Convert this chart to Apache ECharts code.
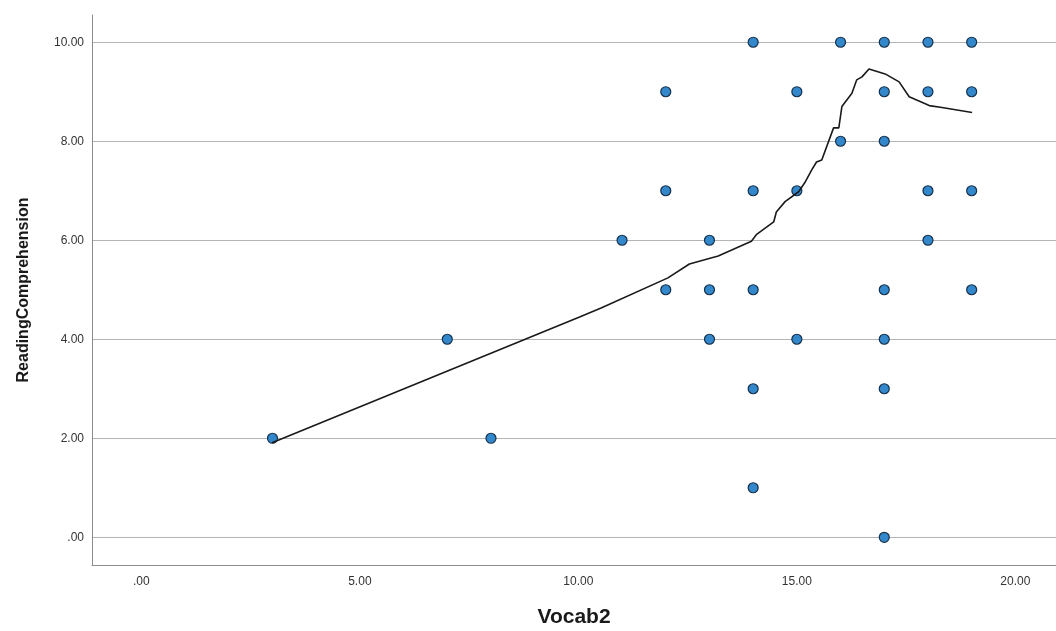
<!DOCTYPE html>
<html>
<head>
<meta charset="utf-8">
<script src="https://cdn.jsdelivr.net/npm/echarts@6/dist/echarts.min.js"></script>
<style>
  html, body { margin: 0; padding: 0; background: #ffffff; }
  #chart { width: 1056px; height: 631px; }
</style>
</head>
<body>
<div id="chart"></div>
<script>
// Scatter points (Vocab2, ReadingComprehension)
const vocab2  = [14, 16, 17, 18, 19,  12, 15, 17, 18, 19,  16, 17,  12, 14, 15, 18, 19,  11, 13, 18,  12, 13, 14, 17, 19,  7, 13, 15, 17,  14, 17,  3, 8,  14,  17];
const reading = [10, 10, 10, 10, 10,   9,  9,  9,  9,  9,   8,  8,   7,  7,  7,  7,  7,   6,  6,  6,   5,  5,  5,  5,  5,  4,  4,  4,  4,   3,  3,  2, 2,   1,   0];

// Loess fit line
const fitX = [2.99, 10.0, 10.52, 12.05, 12.54, 13.2, 13.96, 14.08, 14.47, 14.53, 14.73, 15.04, 15.18, 15.34, 15.45, 15.57, 15.84, 15.96, 16.03, 16.26, 16.37, 16.49, 16.65, 17.02, 17.34, 17.57, 18.03, 18.32, 19.01];
const fitY = [1.91, 4.44, 4.63, 5.24, 5.52, 5.68, 5.98, 6.12, 6.37, 6.57, 6.78, 6.98, 7.16, 7.42, 7.58, 7.62, 8.27, 8.27, 8.70, 8.97, 9.24, 9.30, 9.46, 9.36, 9.20, 8.90, 8.72, 8.68, 8.58];

// Tick values
const xTicks = [0, 5, 10, 15, 20];
const yTicks = [0, 2, 4, 6, 8, 10];

const fmt = v => (v === 0 ? '.00' : v.toFixed(2));
const FONT = 'Liberation Sans, Arial, sans-serif';

const chart = echarts.init(document.getElementById('chart'), null, { renderer: 'canvas' });
chart.setOption({
  animation: false,
  backgroundColor: '#ffffff',
  grid: { left: 92, right: 0, top: 15, bottom: 66, containLabel: false, outerBoundsMode: 'none' },
  xAxis: {
    type: 'value',
    min: -1.13,
    max: 20.93,
    name: 'Vocab2',
    nameLocation: 'middle',
    nameGap: 42,
    nameTextStyle: { fontFamily: FONT, fontWeight: 'bold', fontSize: 21, color: '#1a1a1a' },
    axisLine: { show: true, onZero: false, lineStyle: { color: '#8c8c8c', width: 1 } },
    axisTick: { show: false, customValues: xTicks },
    axisLabel: { customValues: xTicks, formatter: fmt, margin: 11, fontFamily: FONT, fontSize: 12, color: '#333333' },
    splitLine: { show: false }
  },
  yAxis: {
    type: 'value',
    min: -0.56,
    max: 10.55,
    name: 'ReadingComprehension',
    nameLocation: 'middle',
    nameGap: 60,
    nameRotate: 90,
    nameTextStyle: { fontFamily: FONT, fontWeight: 'bold', fontSize: 16, color: '#1a1a1a' },
    axisLine: { show: true, onZero: false, lineStyle: { color: '#8c8c8c', width: 1 } },
    axisTick: { show: false, customValues: yTicks },
    axisLabel: { customValues: yTicks, formatter: fmt, margin: 8, fontFamily: FONT, fontSize: 12, color: '#333333' },
    splitLine: { show: true, lineStyle: { color: '#b4b4b4', width: 1 } }
  },
  series: [
    {
      type: 'scatter',
      data: vocab2.map((x, i) => [x, reading[i]]),
      symbol: 'circle',
      symbolSize: 10,
      itemStyle: { color: '#3388cc', borderColor: '#15304a', borderWidth: 1.2, opacity: 1 },
      z: 3
    },
    {
      type: 'line',
      data: fitX.map((x, i) => [x, fitY[i]]),
      showSymbol: false,
      symbol: 'none',
      smooth: false,
      lineStyle: { color: '#1a1a1a', width: 1.6 },
      z: 4
    }
  ]
});
</script>
</body>
</html>
